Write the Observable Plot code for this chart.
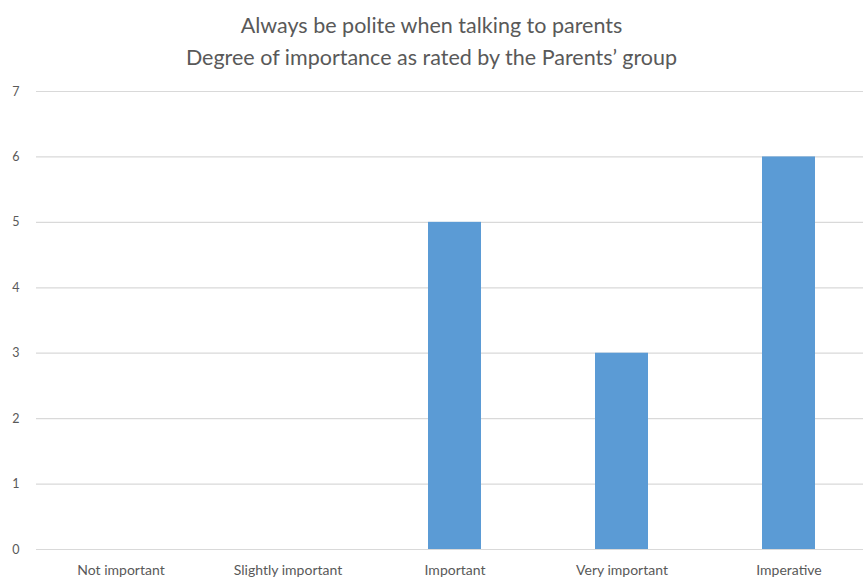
<!DOCTYPE html>
<html><head><meta charset="utf-8">
<script src="https://cdn.jsdelivr.net/npm/d3@7"></script>
<script src="https://cdn.jsdelivr.net/npm/@observablehq/plot@0.6"></script>
<style>
html,body{margin:0;padding:0;background:#fff;overflow:hidden;}
#title{width:863px;height:80px;box-sizing:border-box;padding-top:9px;text-align:center;font-family:Lato,"Open Sans",sans-serif;font-size:21.5px;line-height:32px;color:#595959;}
svg{display:block;}
</style></head><body>
<div id="title">Always be polite when talking to parents<br>Degree of importance as rated by the Parents’ group</div>
<div id="chart"></div>
<script>
const categories = ["Not important","Slightly important","Important","Very important","Imperative"];
const counts = [0, 0, 5, 3, 6];
const yTicks = [0,1,2,3,4,5,6,7];
const data = categories.map((c,i)=>({category:c, count:counts[i]}));
const chart = Plot.plot({
  width: 863, height: 499,
  marginLeft: 36, marginRight: 0, marginTop: 11, marginBottom: 30,
  style: {fontFamily: "Lato, 'Open Sans', sans-serif", color: "#595959", background: "#fff"},
  x: {domain: categories, range: [36.25, 873.75], paddingInner: 0.68, paddingOuter: 0.34, label: null},
  y: {domain: [0, 7], label: null},
  marks: [
    Plot.ruleY(yTicks, {stroke: "#d9d9d9", strokeWidth: 1.2}),
    Plot.barY(data, {x: "category", y: "count", fill: "#5b9bd5"}),
    Plot.axisY(yTicks, {tickSize: 0, tickPadding: 17, fontSize: 12.5, fill: "#595959", tickFormat: d3.format("d"), label: null}),
    Plot.axisX({tickSize: 0, tickPadding: 16, fontSize: 14, fill: "#595959", label: null})
  ]
});
document.getElementById("chart").appendChild(chart);
</script></body></html>
